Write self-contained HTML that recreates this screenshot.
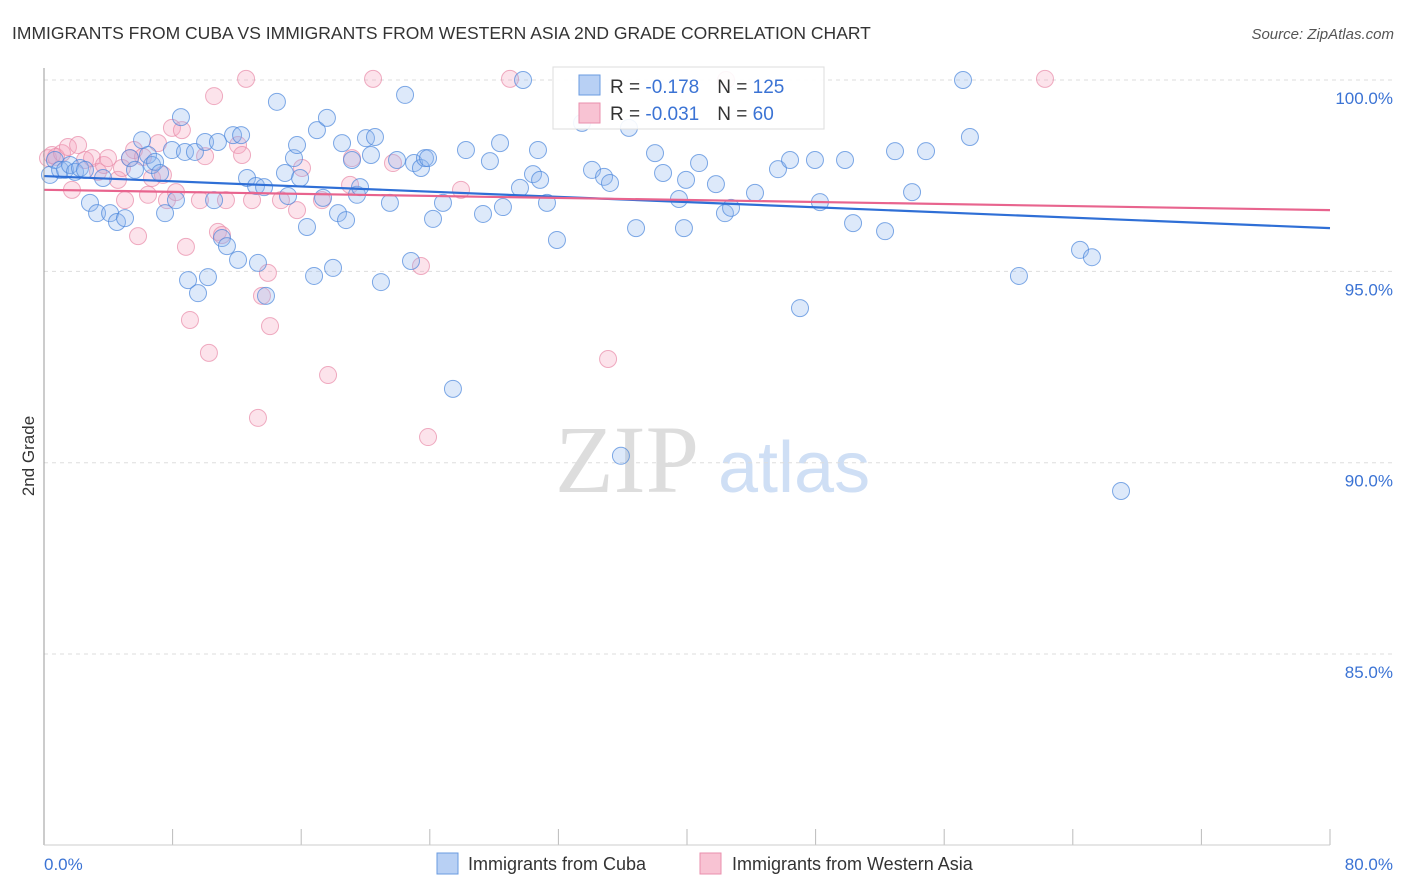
<!DOCTYPE html>
<html><head><meta charset="utf-8"><style>
body{margin:0;background:#fff;font-family:"Liberation Sans",sans-serif;}
svg{display:block}
</style></head><body>
<svg id="chart" width="1406" height="892">
<text x="12" y="39" font-size="17.5" fill="#333">IMMIGRANTS FROM CUBA VS IMMIGRANTS FROM WESTERN ASIA 2ND GRADE CORRELATION CHART</text>
<text x="1394" y="39" font-size="15" fill="#555" font-style="italic" text-anchor="end">Source: ZipAtlas.com</text>
<text x="34" y="456" font-size="17" fill="#333" transform="rotate(-90 34 456)" text-anchor="middle">2nd Grade</text>
<text x="555" y="492" font-size="96" fill="#ddd" font-family="Liberation Serif">ZIP</text>
<text x="718" y="492" font-size="72" fill="#cfdff5">atlas</text>
<g id="grid"></g><g id="marks"></g>
<line x1="44" y1="68" x2="44" y2="845" stroke="#999"/>
<line x1="44" y1="845" x2="1330" y2="845" stroke="#ccc"/>
<text x="44" y="870" font-size="17" fill="#3b73d4">0.0%</text>
<text x="1393" y="870" font-size="17" fill="#3b73d4" text-anchor="end">80.0%</text>
<g>
<rect x="553" y="67" width="271" height="62" fill="#fff" fill-opacity="0.9" stroke="#ddd"/>
<rect x="579" y="75" width="21" height="20" fill="#b8d0f4" stroke="#6a9be0"/>
<rect x="579" y="103" width="21" height="20" fill="#f8c3d3" stroke="#ea8fac"/>
<text x="610" y="93" font-size="19" fill="#333">R = <tspan fill="#3b73d4">-0.178</tspan><tspan dx="18">N = </tspan><tspan fill="#3b73d4">125</tspan></text>
<text x="610" y="120" font-size="19" fill="#333">R = <tspan fill="#3b73d4">-0.031</tspan><tspan dx="18">N = </tspan><tspan fill="#3b73d4"> 60</tspan></text>
</g>
<g><rect x="437" y="853" width="21" height="21" fill="#b8d0f4" stroke="#6a9be0"/><text x="468" y="870" font-size="18" fill="#333">Immigrants from Cuba</text></g>
<g><rect x="700" y="853" width="21" height="21" fill="#f8c3d3" stroke="#ea8fac"/><text x="732" y="870" font-size="18" fill="#333">Immigrants from Western Asia</text></g>
</svg>
<script>
const yTicks=[100,95,90,85];
const xTicks=[0,8,16,24,32,40,48,56,64,72,80];
const bluePx=[[50,175],[55,160],[60,170],[65,170],[70,165],[75,172],[80,168],[85,170],[90,203],[97,213],[103,178],[110,213],[117,222],[125,218],[130,158],[135,170],[142,140],[148,155],[152,165],[155,162],[160,173],[165,213],[172,150],[176,200],[181,117],[185,152],[188,280],[195,152],[198,293],[205,142],[208,277],[214,200],[218,142],[222,238],[227,246],[233,135],[238,260],[241,135],[247,178],[256,186],[258,263],[264,187],[266,296],[277,102],[285,173],[288,196],[294,158],[297,145],[300,178],[307,227],[314,276],[317,130],[323,198],[327,118],[333,268],[338,213],[342,143],[346,220],[352,160],[357,195],[360,187],[366,138],[371,155],[375,137],[381,282],[390,203],[397,160],[405,95],[411,261],[414,163],[421,168],[425,158],[428,158],[433,219],[443,203],[453,389],[466,150],[483,214],[490,161],[500,143],[503,207],[520,188],[523,80],[533,174],[538,150],[540,180],[547,203],[557,240],[582,123],[592,170],[604,177],[610,183],[621,456],[629,128],[636,228],[655,153],[663,173],[679,199],[684,228],[686,180],[699,163],[716,184],[725,213],[731,208],[755,193],[778,169],[790,160],[800,308],[815,160],[820,202],[845,160],[853,223],[885,231],[895,151],[912,192],[926,151],[963,80],[970,137],[1019,276],[1080,250],[1092,257],[1121,491]];
const pinkPx=[[48,158],[52,155],[56,157],[62,153],[68,147],[72,190],[78,145],[85,160],[92,158],[98,172],[104,165],[108,158],[118,180],[122,168],[125,200],[130,158],[134,150],[138,236],[143,157],[148,195],[152,178],[158,143],[163,175],[167,200],[172,128],[176,192],[182,130],[186,247],[190,320],[200,200],[205,156],[209,353],[214,96],[218,232],[222,235],[226,200],[238,145],[242,155],[246,79],[252,200],[258,418],[262,296],[268,273],[270,326],[281,200],[297,210],[302,168],[322,200],[328,375],[350,185],[352,158],[373,79],[393,163],[421,266],[428,437],[461,190],[510,79],[608,359],[726,80],[1045,79]];
// data values (x in %, y in %)
const cubaX=bluePx.map(p=>+((p[0]-44)/16.075).toFixed(2));
const cubaY=bluePx.map(p=>+(100-(p[1]-80)/38.27).toFixed(2));
const asiaX=pinkPx.map(p=>+((p[0]-44)/16.075).toFixed(2));
const asiaY=pinkPx.map(p=>+(100-(p[1]-80)/38.27).toFixed(2));
const cubaTrend=[97.49,96.13];
const asiaTrend=[97.13,96.60];
const sx=v=>44+v*16.075, sy=v=>80+(100-v)*38.27;
const NS='http://www.w3.org/2000/svg';
const grid=document.getElementById('grid'), marks=document.getElementById('marks');
yTicks.forEach(t=>{
 const l=document.createElementNS(NS,'line');
 
 
 l.setAttribute('x1',44);l.setAttribute('x2',1393);l.setAttribute('y1',sy(t));l.setAttribute('y2',sy(t));
 l.setAttribute('stroke','#ddd');l.setAttribute('stroke-dasharray','4 4');grid.appendChild(l);
 const tx=document.createElementNS(NS,'text');
 
 
 tx.setAttribute('x',1393);tx.setAttribute('y',sy(t)+24);tx.setAttribute('text-anchor','end');
 tx.setAttribute('font-size','17');tx.setAttribute('fill','#3b73d4');tx.textContent=t.toFixed(1)+'%';grid.appendChild(tx);
});
xTicks.forEach(t=>{
 const l=document.createElementNS(NS,'line');
 
 
 l.setAttribute('x1',sx(t));l.setAttribute('x2',sx(t));l.setAttribute('y1',829);l.setAttribute('y2',845);
 l.setAttribute('stroke','#bbb');grid.appendChild(l);
});
function dots(xs,ys,fill,stroke,name){
 xs.forEach((x,i)=>{
  const c=document.createElementNS(NS,'circle');
  
  
  c.setAttribute('cx',sx(x));c.setAttribute('cy',sy(ys[i]));c.setAttribute('r',8.5);
  c.setAttribute('fill',fill);c.setAttribute('fill-opacity','0.3');c.setAttribute('stroke',stroke);c.setAttribute('stroke-opacity','0.7');
  marks.appendChild(c);
 });
}
dots(asiaX,asiaY,'#f4a3bc','#e88aa8','point-western-asia');
dots(cubaX,cubaY,'#8db6ee','#4a86dc','point-cuba');
function trend(tr,color,name){
 const l=document.createElementNS(NS,'line');
 
 
 l.setAttribute('x1',sx(0));l.setAttribute('x2',sx(80));l.setAttribute('y1',sy(tr[0]));l.setAttribute('y2',sy(tr[1]));
 l.setAttribute('stroke',color);l.setAttribute('stroke-width','2.2');marks.appendChild(l);
}
trend(cubaTrend,'#2f6fd6','trend-line-cuba');
trend(asiaTrend,'#e8648e','trend-line-western-asia');
</script>
</body></html>
